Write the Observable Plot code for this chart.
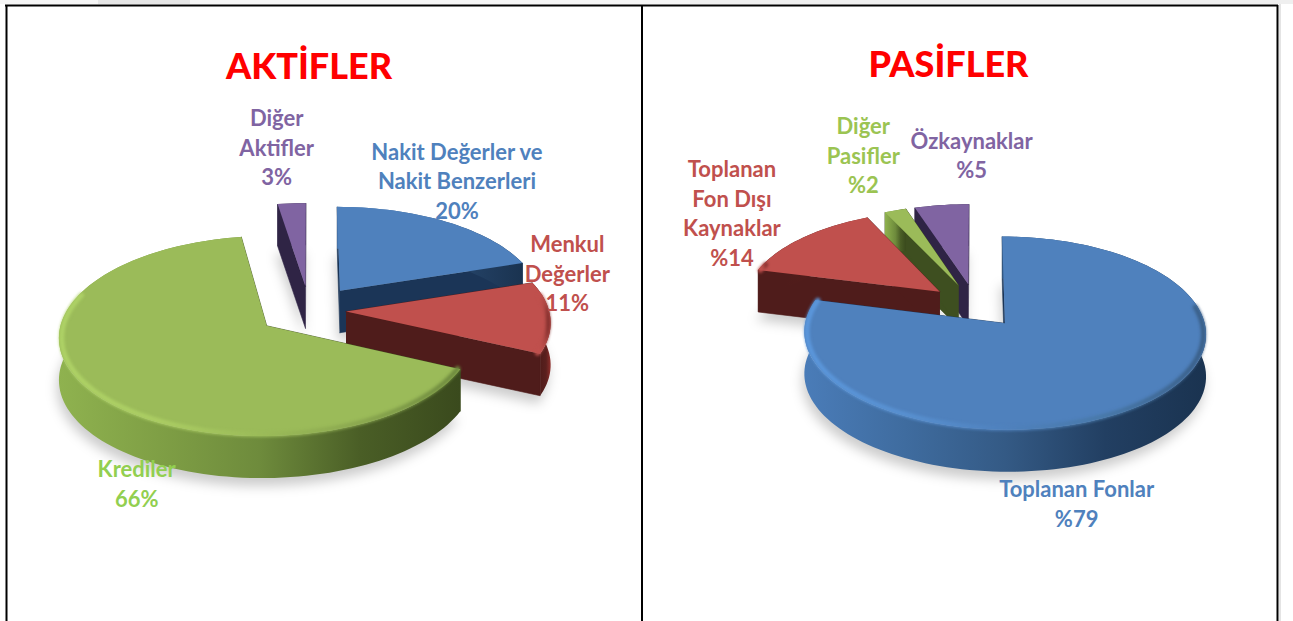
<!DOCTYPE html>
<html lang="tr">
<head>
<meta charset="utf-8">
<style>html,body{margin:0;padding:0;background:#fff;overflow:hidden}svg{display:block}</style>
<script src="https://cdn.jsdelivr.net/npm/d3@7"></script>
<script src="https://cdn.jsdelivr.net/npm/@observablehq/plot@0.6"></script>
</head>
<body>
<script>
// Data
const aktifCategories = ["Nakit Değerler ve\nNakit Benzerleri", "Menkul\nDeğerler", "Krediler", "Diğer\nAktifler"];
const aktifShares = [20, 11.9, 65.6, 2.5];
const aktifLabels = ["20%", "11%", "66%", "3%"];
const pasifCategories = ["Toplanan Fonlar", "Toplanan\nFon Dışı\nKaynaklar", "Diğer\nPasifler", "Özkaynaklar"];
const pasifShares = [79, 14, 2, 5];
const pasifLabels = ["%79", "%14", "%2", "%5"];

// Styles
const FONT = "Lato, 'Noto Sans', sans-serif";
const palette = {
  blue:   {top:"#4f81bd", cut:"#1b3557", wall:["#4a7cb8","#3f6c9f","#345a85","#223f62","#1a3350"], rim:["#5b97dc","#5890d0","#4f81bd","#4878a8","#3a5f88"]},
  red:    {top:"#c0504d", cut:"#4f1c1b", wall:["#4f1c1b","#4f1c1b","#521d1b","#5a201e","#8f2f2c"], rim:["#c0504d","#c0504d","#b84c49","#a84441","#7f2d2b"]},
  green:  {top:"#9bbb59", cut:"#3e4f20", wall:["#8fb24f","#7f9f45","#6e8b3c","#4a5e26","#3a4a1d"], rim:["#aed266","#abcd63","#9bbb59","#8aa74f","#6e8a3e"]},
  purple: {top:"#8064a2", cut:"#2f2445", wall:["#2f2445","#2f2445","#2f2445","#2f2445","#2f2445"], rim:["#8064a2","#8064a2","#8064a2","#8064a2","#8064a2"]}
};

const pies = [
  {id:"a", title:"AKTİFLER", titleX:308.5, titleY:67, cats:aktifCategories, shares:aktifShares, labels:aktifLabels,
   cx:309, cy:310, rx:203, ry:96, k:0.1, depth:42,
   colors:["blue","red","green","purple"], textColors:["#4f81bd","#c0504d","#92cf50","#8064a2"],
   explode:[0.26,0.18,0.26,0.26], order:[3,0,1,2],
   labelOffsets:[[11,-42],[17,-45],[48,93],[-15,-57]]},
  {id:"p", title:"PASİFLER", titleX:948, titleY:65, cats:pasifCategories, shares:pasifShares, labels:pasifLabels,
   cx:975, cy:305, rx:196, ry:92, k:0.1, depth:42,
   colors:["blue","red","green","purple"], textColors:["#4f81bd","#c0504d","#9bc452","#8064a2"],
   explode:[0.24,0.24,0.24,0.24], order:[3,2,1,0],
   labelOffsets:[[-64,97],[-70,-26],[-32,-56],[30,-51]]}
];

const rad = d => d * Math.PI / 180;
const gradDefs = [];
const gradient = (id, stops) => { gradDefs.push({id, stops}); return `url(#${id})`; };
const labels = [];

function pieMarks(p) {
  const total = d3.sum(p.shares);
  let acc = 0;
  const slices = p.shares.map((v, i) => {
    const a0 = acc / total * 360; acc += v;
    return {i, a0, a1: acc / total * 360};
  });
  const under = [], over = [];
  for (const idx of p.order) {
    const s = slices[idx];
    const c = palette[p.colors[idx]];
    const mid = (s.a0 + s.a1) / 2;
    const e = p.explode[idx];
    const eu = e * Math.sin(rad(mid)), ev = e * Math.cos(rad(mid));
    // ground-plane point (radius r at angle phi, shifted by the slice's explosion) seen in perspective
    const project = (phi, r) => {
      const u = eu + r * Math.sin(rad(phi)), v = ev + r * Math.cos(rad(phi));
      const d = 1 + p.k * v;
      return {x: p.cx + p.rx * u / d, y: p.cy - p.ry * v / d};
    };
    const arcAngles = d3.range(s.a0, s.a1, 2).concat([s.a1]);
    const ring = arcAngles.map(phi => project(phi, 1));
    const apex = project(0, 0);
    const down = pt => ({x: pt.x, y: pt.y + p.depth});
    const top = [apex, ...ring];
    const base = top.map(down);
    const first = ring[0], last = ring[ring.length - 1];
    const gid = `${p.id}${idx}`;
    const wallFill = gradient(`wall-${gid}`, c.wall);

    // soft shadow of the slice footprint
    under.push(Plot.line(base.map(d => ({x: d.x - 2, y: d.y + 8})), {
      x:"x", y:"y", fill:"#000", fillOpacity:0.2, stroke:"none", imageFilter:"blur(6px)"
    }));
    // cut faces
    over.push(Plot.line([apex, first, down(first), down(apex)], {x:"x", y:"y", fill:c.cut, stroke:c.cut, strokeWidth:0.6}));
    over.push(Plot.line([apex, last, down(last), down(apex)], {x:"x", y:"y", fill:c.cut, stroke:c.cut, strokeWidth:0.6}));
    // outer wall
    over.push(Plot.line([...ring, ...ring.map(down).reverse()], {x:"x", y:"y", fill:wallFill, stroke:"none"}));
    // top face
    over.push(Plot.line(top, {x:"x", y:"y", fill:c.top, stroke:"none"}));
    // bevel along the front part of the rim
    const bevelAngles = arcAngles.filter(phi => phi >= 80 && phi <= 290);
    if (bevelAngles.length > 1) {
      over.push(Plot.line(bevelAngles.map(phi => project(phi, 0.987)), {
        x:"x", y:"y", stroke:gradient(`rim-${gid}`, c.rim), strokeWidth:5, imageFilter:"blur(1.5px)"
      }));
    }

    // label
    const mp = project(mid, 1);
    const o = p.labelOffsets[idx];
    labels.push({
      x: mp.x + o[0], y: mp.y + o[1],
      text: `${p.cats[idx]}\n${p.labels[idx]}`, color: p.textColors[idx]
    });
  }
  return [...under, ...over];
}

const pieLayers = pies.flatMap(pieMarks);
const titles = pies.map(p => ({x:p.titleX, y:p.titleY, text:p.title}));
const dividers = [6, 641.5, 1277];
const topEdge = [{x1:5, x2:1278, y:5}];
const backdrop = [{x1:0,x2:1293,y1:0,y2:4,f:"#f6f6f6"},{x1:98,x2:190,y1:0,y2:4,f:"#e6e6e6"},{x1:690,x2:1293,y1:0,y2:4,f:"#efefef"}];

const plot = Plot.plot({
  width:1293, height:621, margin:0,
  x:{domain:[0,1293], range:[0,1293], axis:null},
  y:{domain:[0,621], range:[0,621], axis:null},
  style:{background:"#fff", fontFamily:FONT},
  marks:[
    Plot.rect(backdrop, {x1:"x1",x2:"x2",y1:"y1",y2:"y2",fill:d=>d.f}),
    Plot.ruleX([1279.5], {y1:4, y2:621, stroke:"#e4e4e4", strokeWidth:2}),
    ...pieLayers,
    Plot.text(labels, {x:"x", y:"y", text:"text", fill:"color", fontFamily:FONT, fontWeight:700, fontSize:22, lineHeight:1.34, textAnchor:"middle"}),
    Plot.text(titles, {x:"x", y:"y", text:"text", fill:"#ff0000", fontFamily:FONT, fontWeight:900, fontSize:36, textAnchor:"middle"}),
    Plot.ruleX(dividers, {y1:5, y2:621, stroke:"#000", strokeWidth:2}),
    Plot.ruleY(topEdge, {x1:"x1", x2:"x2", y:"y", stroke:"#000", strokeWidth:2})
  ]
});

const defs = d3.select(plot).insert("defs", ":first-child");
for (const g of gradDefs) {
  const lg = defs.append("linearGradient").attr("id", g.id).attr("x1", 0).attr("x2", 1).attr("y1", 0).attr("y2", 0);
  g.stops.forEach((col, i) => lg.append("stop").attr("offset", i / (g.stops.length - 1)).attr("stop-color", col));
}
document.body.append(plot);
</script>
</body>
</html>
